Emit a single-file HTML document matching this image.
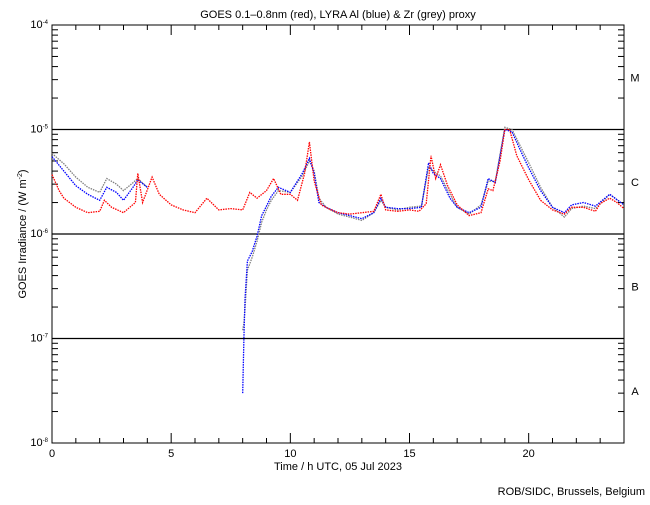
<!DOCTYPE html>
<html><head><meta charset="utf-8"><style>
body{margin:0;background:#fff;width:650px;height:500px;overflow:hidden}
svg text{font-family:"Liberation Sans",sans-serif;font-size:11px;fill:#000}
</style></head><body>
<svg id="chart" width="650" height="500" viewBox="0 0 650 500" xmlns="http://www.w3.org/2000/svg">
<text x="338" y="18" text-anchor="middle" font-size="12">GOES 0.1–0.8nm (red), LYRA Al (blue) &amp; Zr (grey) proxy</text>
<text x="338" y="470" text-anchor="middle">Time / h UTC, 05 Jul 2023</text>
<text transform="translate(26,234) rotate(-90)" text-anchor="middle" font-size="9">GOES Irradiance / (W m<tspan dy="-4" font-size="7">-2</tspan><tspan dy="4">)</tspan></text>
<text x="645" y="495" text-anchor="end">ROB/SIDC, Brussels, Belgium</text>
<g id="axes"></g><g id="series"></g>
</svg>
<script>
const xTickLabels=["0","5","10","15","20"];
const yTickExps=[-4,-5,-6,-7,-8];
const classLabels=["M","C","B","A"];
const redT=[0,0.3,0.5,1,1.5,2,2.2,2.5,3,3.5,3.6,3.8,4.2,4.5,5,5.5,6,6.5,7,7.5,8,8.3,8.6,9,9.3,9.6,10,10.3,10.6,10.8,11,11.3,11.6,12,12.5,13,13.5,13.8,14,14.5,15,15.4,15.7,15.9,16.1,16.3,16.6,17,17.5,18,18.3,18.5,18.8,19,19.2,19.5,20,20.5,21,21.5,21.8,22.3,22.8,23,23.4,23.7,24];
const redV=[3.7e-6,2.6e-6,2.2e-6,1.8e-6,1.6e-6,1.65e-6,2.1e-6,1.8e-6,1.6e-6,2.0e-6,3.8e-6,2.0e-6,3.5e-6,2.4e-6,1.9e-6,1.7e-6,1.6e-6,2.2e-6,1.7e-6,1.75e-6,1.7e-6,2.5e-6,2.2e-6,2.6e-6,3.4e-6,2.4e-6,2.4e-6,2.1e-6,3.8e-6,7.6e-6,3.2e-6,1.9e-6,1.75e-6,1.6e-6,1.55e-6,1.6e-6,1.65e-6,2.4e-6,1.7e-6,1.65e-6,1.7e-6,1.65e-6,1.95e-6,5.6e-6,3.4e-6,4.6e-6,2.9e-6,1.9e-6,1.5e-6,1.6e-6,2.7e-6,2.6e-6,5.0e-6,1.0e-5,1.0e-5,5.6e-6,3.3e-6,2.1e-6,1.7e-6,1.55e-6,1.8e-6,1.8e-6,1.65e-6,1.95e-6,2.2e-6,2.0e-6,1.75e-6];
const blueT=[0,0.5,1,1.5,2,2.3,2.7,3,3.4,3.6,4,null,8,8.05,8.1,8.2,8.4,8.6,8.8,9,9.2,9.5,10,10.5,10.8,11,11.2,11.5,12,12.5,13,13.5,13.8,14,14.5,15,15.5,15.8,16,16.3,16.7,17,17.5,18,18.3,18.6,19,19.3,19.7,20,20.5,21,21.5,21.8,22.3,22.8,23.4,24];
const blueV=[5.5e-6,4.0e-6,2.9e-6,2.4e-6,2.1e-6,2.8e-6,2.5e-6,2.1e-6,2.8e-6,3.3e-6,2.8e-6,null,3.0e-8,1.0e-7,2.4e-7,5.5e-7,6.8e-7,9.5e-7,1.5e-6,1.85e-6,2.3e-6,2.8e-6,2.5e-6,3.8e-6,5.3e-6,3.8e-6,2.0e-6,1.8e-6,1.6e-6,1.5e-6,1.4e-6,1.6e-6,2.2e-6,1.8e-6,1.75e-6,1.75e-6,1.8e-6,4.8e-6,3.8e-6,3.4e-6,2.2e-6,1.8e-6,1.6e-6,1.8e-6,3.4e-6,3.1e-6,1.0e-5,9.5e-6,6.0e-6,4.3e-6,2.6e-6,1.8e-6,1.6e-6,1.9e-6,2.0e-6,1.85e-6,2.4e-6,1.9e-6];
const greyT=[0,0.5,1,1.5,2,2.3,2.7,3,3.4,3.6,4,null,8,8.05,8.1,8.2,8.4,8.6,8.8,9,9.2,9.5,10,10.5,10.8,11,11.2,11.5,12,12.5,13,13.5,13.8,14,14.5,15,15.5,15.8,16,16.3,16.7,17,17.5,18,18.3,18.6,19,19.3,19.7,20,20.5,21,21.5,21.8,22.3,22.8,23.4,24];
const greyV=[5.9e-6,4.7e-6,3.5e-6,2.8e-6,2.5e-6,3.4e-6,3.0e-6,2.6e-6,3.1e-6,3.4e-6,2.8e-6,null,1.2e-7,1.4e-7,1.9e-7,4.5e-7,6.0e-7,8.5e-7,1.3e-6,1.7e-6,2.1e-6,2.6e-6,2.5e-6,3.6e-6,5.0e-6,4.0e-6,2.2e-6,1.8e-6,1.55e-6,1.45e-6,1.35e-6,1.6e-6,2.1e-6,1.8e-6,1.7e-6,1.8e-6,1.85e-6,4.4e-6,4.0e-6,3.6e-6,2.4e-6,1.8e-6,1.55e-6,1.9e-6,3.2e-6,3.2e-6,1.05e-5,1.0e-5,6.6e-6,4.8e-6,2.8e-6,1.8e-6,1.45e-6,1.75e-6,1.85e-6,1.75e-6,2.4e-6,1.9e-6];
const X0=52,X1=624,Y0=25,Y1=443;
const xs=t=>X0+(X1-X0)*t/24;
const ys=v=>Y0+(Y1-Y0)*(-4-Math.log10(v))/4;
const NS="http://www.w3.org/2000/svg";
const ax=document.getElementById('axes'),se=document.getElementById('series');
function mk(tag,attrs,parent){const e=document.createElementNS(NS,tag);for(const k in attrs)e.setAttribute(k,attrs[k]);parent.appendChild(e);return e;}
let r=mk('rect',{x:X0,y:Y0,width:X1-X0,height:Y1-Y0,fill:'none',stroke:'#000','stroke-width':1},ax);


for(let h=0;h<=24;h++){const x=xs(h),L=h%5==0?10:5;
 let t1=mk('line',{x1:x,x2:x,y1:Y1,y2:Y1-L,stroke:'#000'},ax);
 
 
 let t2=mk('line',{x1:x,x2:x,y1:Y0,y2:Y0+L,stroke:'#000'},ax);
 
 }
xTickLabels.forEach(s=>{let t=mk('text',{x:xs(+s),y:Y1+14,'text-anchor':'middle'},ax);t.textContent=s;
 
 });
yTickExps.forEach((e,i)=>{const y=ys(Math.pow(10,e));
 let t=mk('text',{x:48,y:y+3,'text-anchor':'end','font-size':'9'},ax);t.innerHTML='10<tspan dy="-4" font-size="6">'+e+'</tspan>';
 
 
 if(e<-4&&e>-8){let g=mk('line',{x1:X0,x2:X1,y1:y,y2:y,stroke:'#000','stroke-width':1.3},ax);
  
  }
 if(e>-8)for(let m=2;m<=9;m++){const yy=ys(m*Math.pow(10,e-1));
  let a=mk('line',{x1:X0,x2:X0+6,y1:yy,y2:yy,stroke:'#000'},ax);
  
  
  let b=mk('line',{x1:X1,x2:X1-6,y1:yy,y2:yy,stroke:'#000'},ax);
  
  }
 let c=mk('line',{x1:X0,x2:X0+10,y1:y,y2:y,stroke:'#000'},ax);
 
 });
classLabels.forEach((s,i)=>{const y=(ys(Math.pow(10,-4-i))+ys(Math.pow(10,-5-i)))/2;
 let t=mk('text',{x:635,y:y+4,'text-anchor':'middle'},ax);t.textContent=s;
 
 });
function draw(T,V,col,name){let segs=[[]];T.forEach((t,i)=>{if(t===null){segs.push([]);return;}segs[segs.length-1].push(xs(t).toFixed(1)+','+ys(V[i]).toFixed(1));});
 segs.forEach(s=>{if(s.length<2)return;let p=mk('polyline',{points:s.join(' '),fill:'none',stroke:col,'stroke-width':1.3,'stroke-dasharray':'1.5 1'},se);
 
 });}
draw(greyT,greyV,'#808080','zr-proxy-series');
draw(blueT,blueV,'#0000ff','al-proxy-series');
draw(redT,redV,'#ff0000','goes-series');
</script>
</body></html>
